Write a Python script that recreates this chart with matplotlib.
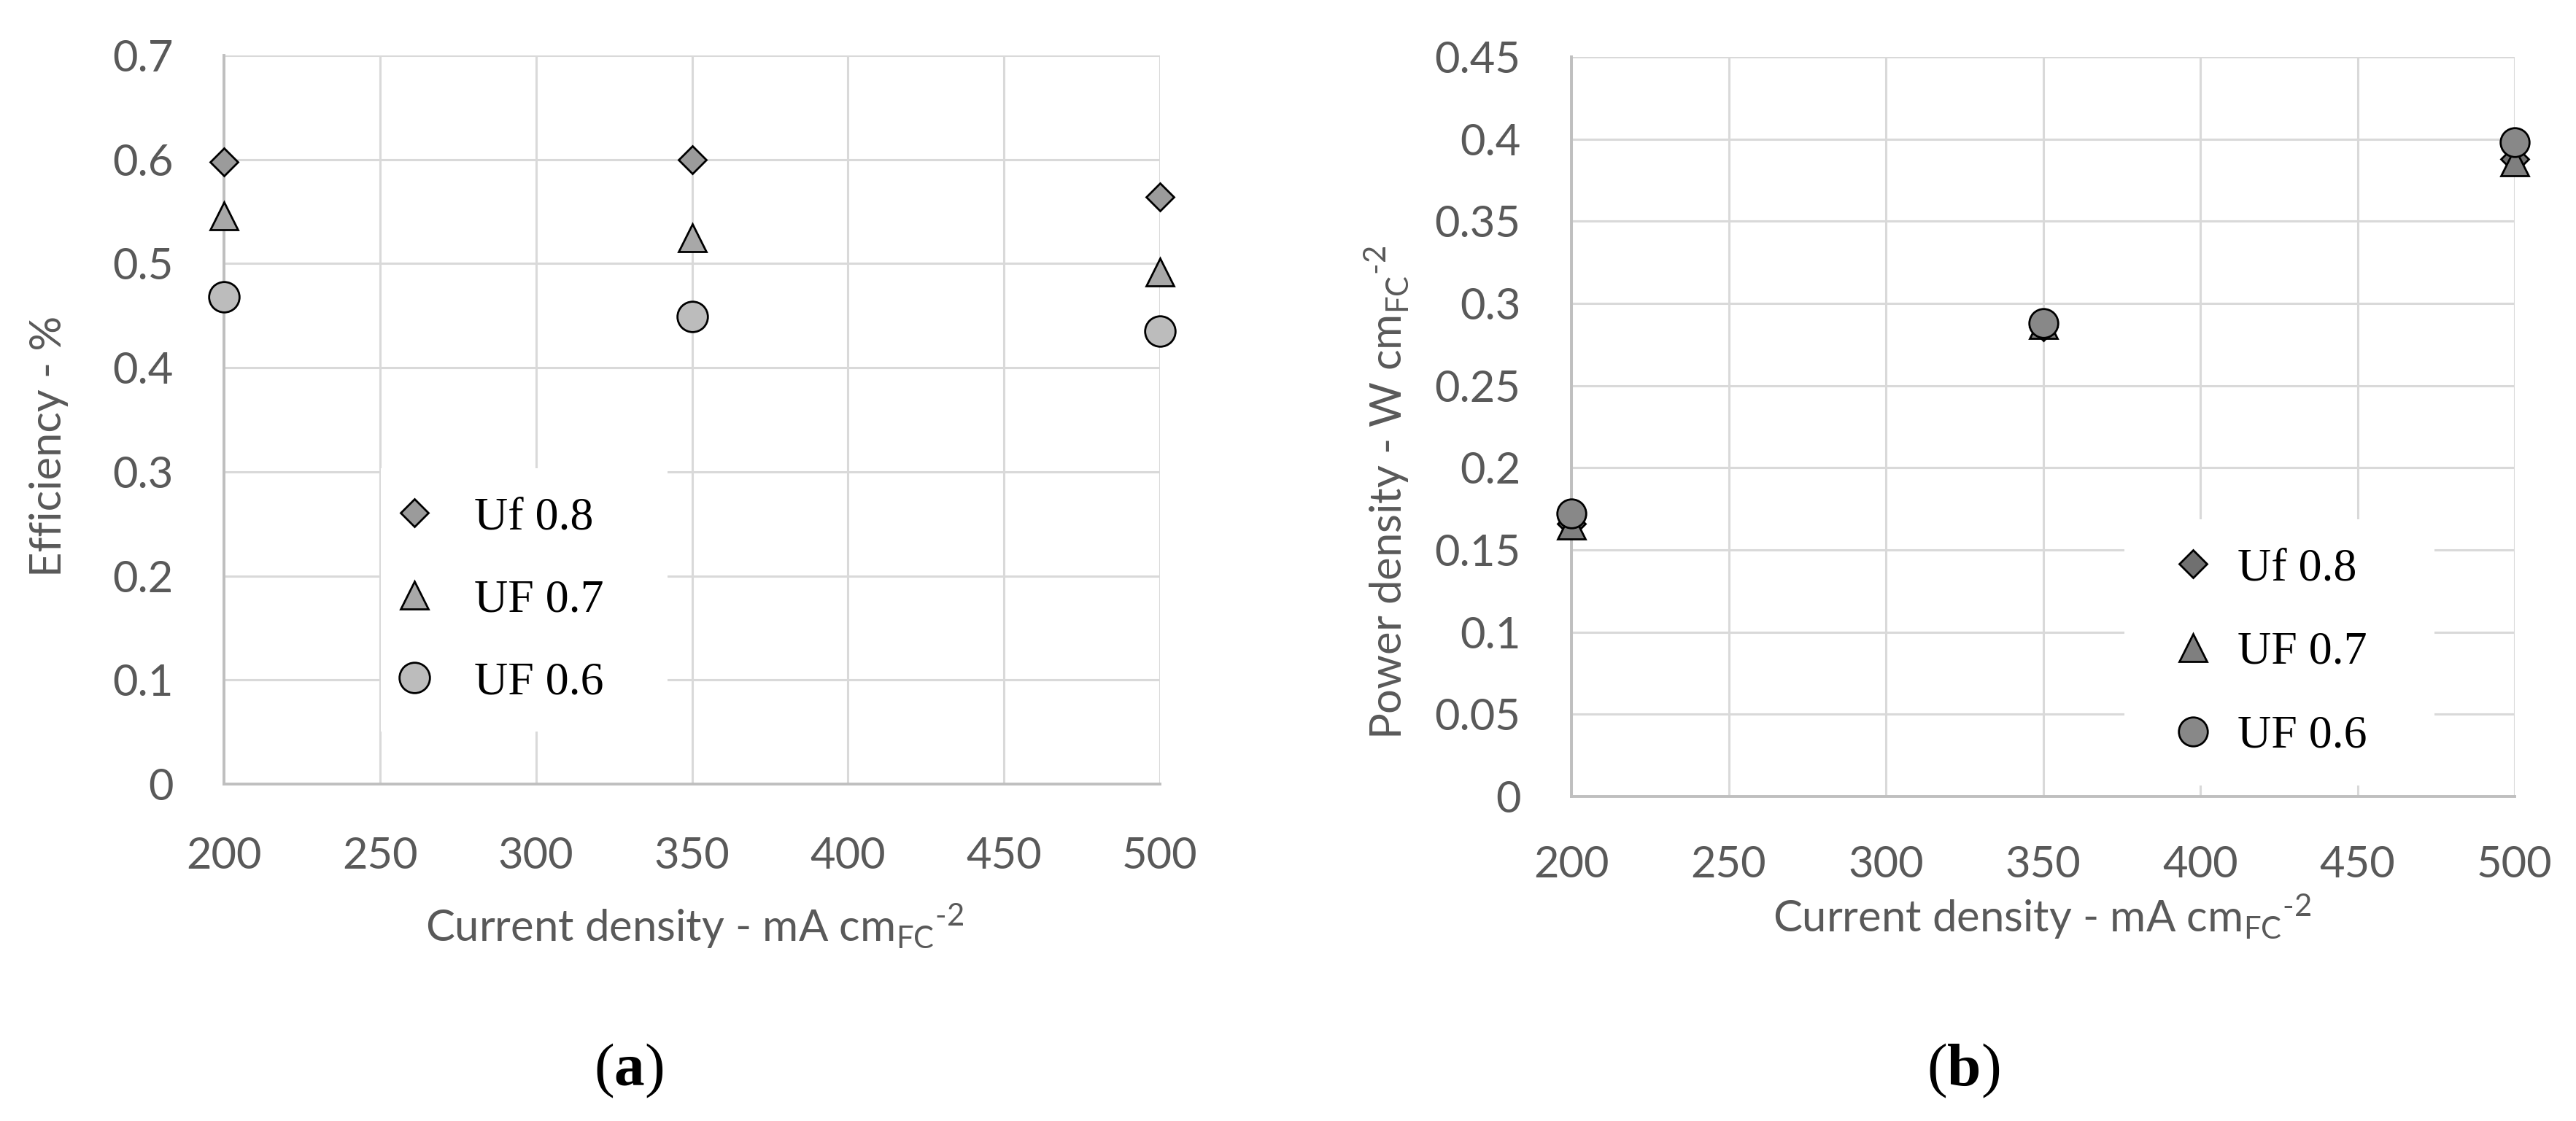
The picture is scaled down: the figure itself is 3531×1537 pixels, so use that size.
import matplotlib
matplotlib.use("Agg")
import matplotlib.pyplot as plt
from matplotlib.ticker import MultipleLocator, FuncFormatter

# ---------------- data ----------------
current_density = [200, 350, 500]
series_labels = ["Uf 0.8", "UF 0.7", "UF 0.6"]

eff_uf08 = [0.598, 0.600, 0.564]
eff_uf07 = [0.546, 0.525, 0.492]
eff_uf06 = [0.468, 0.449, 0.435]

pow_uf08 = [0.166, 0.286, 0.388]
pow_uf07 = [0.165, 0.287, 0.386]
pow_uf06 = [0.172, 0.288, 0.398]

# ---------------- style ----------------
plt.rcParams['font.family'] = ['Lato', 'DejaVu Sans']
plt.rcParams['mathtext.fontset'] = 'custom'
plt.rcParams['mathtext.rm'] = 'Lato'
plt.rcParams['mathtext.bf'] = 'Liberation Serif:bold'

DPI = 100
W, H = 3531, 1537
fig = plt.figure(figsize=(W / DPI, H / DPI), dpi=DPI)

TXT = '#595959'
GRID = '#d9d9d9'
SPINE = '#bfbfbf'
TICK_FS = 43
LAB_FS = 43
LEG_FS = 46


def px_axes(x0, x1, y0, y1):
    return fig.add_axes([x0 / W, 1 - y1 / H, (x1 - x0) / W, (y1 - y0) / H])


def style_axes(ax, ymax, ystep, yfmt, xpad):
    ax.set_xlim(200, 500)
    ax.set_ylim(0, ymax)
    ax.xaxis.set_major_locator(MultipleLocator(50))
    ax.yaxis.set_major_locator(MultipleLocator(ystep))
    ax.yaxis.set_major_formatter(FuncFormatter(yfmt))
    ax.grid(True, color=GRID, linewidth=2.2, zorder=0)
    ax.set_axisbelow(True)
    for s in ['top', 'right']:
        ax.spines[s].set_visible(False)
    for s in ['left', 'bottom']:
        ax.spines[s].set_color(SPINE)
        ax.spines[s].set_linewidth(2.8)
    ax.tick_params(axis='both', length=0, labelsize=TICK_FS, colors=TXT)
    ax.tick_params(axis='x', pad=xpad)
    ax.tick_params(axis='y', pad=50)


def fmt_y(v, pos):
    s = ('%.2f' % v).rstrip('0').rstrip('.')
    return s if s else '0'


unit = r'$\mathregular{cm_{FC}{}^{\text{-}2}}$'
xlabel = 'Current density - mA ' + unit

# ---------------- panel (a) ----------------
ax1 = px_axes(307, 1590, 76, 1075)
style_axes(ax1, 0.7, 0.1, fmt_y, 52)
ax1.plot(current_density, eff_uf08, linestyle='none', marker='D', markersize=19.3,
         markerfacecolor='#9b9b9b', markeredgecolor='black', markeredgewidth=2.0,
         label=series_labels[0], clip_on=False, zorder=3)
ax1.plot(current_density, eff_uf07, linestyle='none', marker='^', markersize=27,
         markerfacecolor='#a8a8a8', markeredgecolor='black', markeredgewidth=2.0,
         label=series_labels[1], clip_on=False, zorder=3)
ax1.plot(current_density, eff_uf06, linestyle='none', marker='o', markersize=30,
         markerfacecolor='#bcbcbc', markeredgecolor='black', markeredgewidth=2.0,
         label=series_labels[2], clip_on=False, zorder=3)

leg1 = ax1.legend(loc='upper left', bbox_to_anchor=(0.1676, 0.0, 0.3063, 0.4334),
                  mode='expand', borderaxespad=0, frameon=True, framealpha=1,
                  facecolor='white', edgecolor='none', fancybox=False,
                  numpoints=1, handlelength=0.25, handletextpad=1.15,
                  borderpad=0.6, labelspacing=0.85,
                  prop={'family': 'Liberation Serif', 'size': LEG_FS})

fig.text(67 / W, 1 - 612 / H, 'Efficiency - %', rotation=90, ha='center', va='center',
         fontsize=LAB_FS, color=TXT)
fig.text(952 / W, 1 - 1270 / H, xlabel,
         ha='center', va='center', fontsize=LAB_FS, color=TXT)

# ---------------- panel (b) ----------------
ax2 = px_axes(2154, 3447, 78, 1092)
style_axes(ax2, 0.45, 0.05, fmt_y, 48)
ax2.plot(current_density, pow_uf08, linestyle='none', marker='D', markersize=19.3,
         markerfacecolor='#707070', markeredgecolor='black', markeredgewidth=2.0,
         label=series_labels[0], clip_on=False, zorder=3)
ax2.plot(current_density, pow_uf07, linestyle='none', marker='^', markersize=27,
         markerfacecolor='#7f7f7f', markeredgecolor='black', markeredgewidth=2.0,
         label=series_labels[1], clip_on=False, zorder=3)
ax2.plot(current_density, pow_uf06, linestyle='none', marker='o', markersize=28.5,
         markerfacecolor='#888888', markeredgecolor='black', markeredgewidth=2.0,
         label=series_labels[2], clip_on=False, zorder=3)

leg2 = ax2.legend(loc='upper left', bbox_to_anchor=(0.5862, 0.0, 0.3287, 0.3748),
                  mode='expand', borderaxespad=0, frameon=True, framealpha=1,
                  facecolor='white', edgecolor='none', fancybox=False,
                  numpoints=1, handlelength=1.75, handletextpad=0.08,
                  borderpad=0.6, labelspacing=0.88,
                  prop={'family': 'Liberation Serif', 'size': LEG_FS})

fig.text(1901 / W, 1 - 675 / H, 'Power density - W ' + unit,
         rotation=90, ha='center', va='center', fontsize=LAB_FS, color=TXT)
fig.text(2799 / W, 1 - 1257 / H, xlabel,
         ha='center', va='center', fontsize=LAB_FS, color=TXT)

# ---------------- panel captions ----------------
fig.text(862 / W, 1 - 1468 / H, r'($\mathbf{a}$)', ha='center', va='center', fontsize=60,
         family='Liberation Serif', color='black')
fig.text(2691 / W, 1 - 1468 / H, r'($\mathbf{b}$)', ha='center', va='center', fontsize=60,
         family='Liberation Serif', color='black')

fig.savefig('out.png', dpi=DPI, facecolor='white')
